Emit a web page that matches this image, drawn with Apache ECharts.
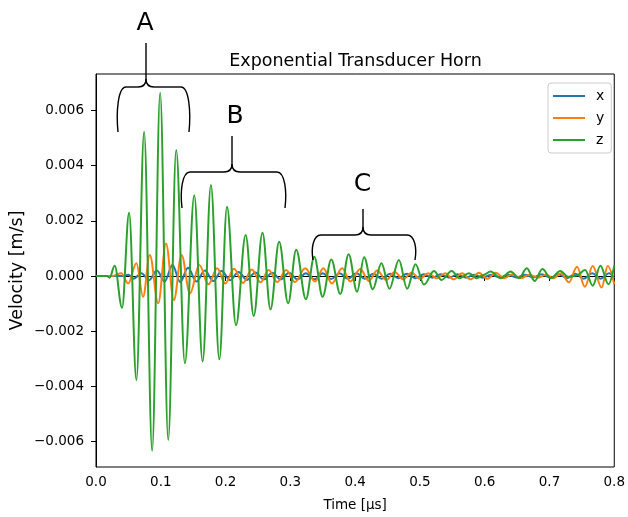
<!DOCTYPE html>
<html>
<head>
<meta charset="utf-8">
<script src="https://cdn.jsdelivr.net/npm/echarts@6/dist/echarts.min.js"></script>
<style>html,body{margin:0;padding:0;background:#fff;}#c{width:628px;height:517px;}</style>
</head>
<body>
<div id="c"></div>
<script>
// ---- data (extrema of each trace) ----
const zTime = [0, 0.017, 0.021, 0.0288, 0.0402, 0.0511, 0.0624, 0.0743, 0.0867, 0.099, 0.1115, 0.1238, 0.1372, 0.1517, 0.1646, 0.1774, 0.1904, 0.2022, 0.2161, 0.231, 0.2435, 0.257, 0.2693, 0.2827, 0.2966, 0.309, 0.324, 0.3369, 0.3498, 0.3632, 0.3771, 0.390, 0.403, 0.4138, 0.4272, 0.4406, 0.453, 0.4675, 0.4803, 0.4932, 0.5062, 0.5217, 0.5334, 0.549, 0.561, 0.5758, 0.5878, 0.598, 0.609, 0.625, 0.640, 0.653, 0.665, 0.677, 0.689, 0.702, 0.7167, 0.729, 0.742, 0.755, 0.7667, 0.7786, 0.791, 0.800];
const zVel  = [0, 0, -0.00006, 0.00037, -0.00115, 0.00229, -0.00377, 0.00523, -0.00633, 0.00664, -0.00594, 0.00457, -0.00316, 0.00293, -0.0031, 0.0033, -0.00302, 0.00251, -0.00178, 0.00149, -0.00145, 0.00157, -0.00121, 0.00124, -0.00099, 0.00095, -0.00084, 0.0007, -0.00075, 0.0006, -0.00065, 0.00079, -0.00057, 0.00068, -0.00048, 0.00046, -0.00046, 0.00058, -0.00046, 0.00043, -0.00031, 0.00018, -0.00014, 0.00018, -0.00008, 0.0001, -0.00008, 0.00004, 0.00016, -0.00008, 0.00016, -0.00008, 0.00028, -0.00018, 0.00025, -0.00008, 0.00018, -0.00003, 0.00002, 0.00022, -0.00035, 0.00037, -0.0003, 0.00037];

const yTime = [0, 0.025, 0.0391, 0.0495, 0.0624, 0.0727, 0.083, 0.096, 0.108, 0.1202, 0.132, 0.145, 0.1595, 0.1735, 0.187, 0.1995, 0.213, 0.227, 0.2405, 0.254, 0.2665, 0.2797, 0.2936, 0.307, 0.323, 0.338, 0.351, 0.364, 0.380, 0.3925, 0.408, 0.421, 0.434, 0.448, 0.461, 0.474, 0.487, 0.500, 0.513, 0.526, 0.539, 0.552, 0.565, 0.578, 0.591, 0.604, 0.617, 0.630, 0.643, 0.656, 0.669, 0.682, 0.695, 0.706, 0.718, 0.730, 0.7425, 0.7546, 0.7667, 0.7804, 0.790, 0.800];
const yVel  = [0, 0, 0.0001, -0.00027, 0.00046, -0.00075, 0.00076, -0.00099, 0.00118, -0.00087, 0.00076, -0.00063, 0.0004, -0.0003, 0.00028, -0.00027, 0.00026, -0.00025, 0.00024, -0.00023, 0.00022, -0.00022, 0.00022, -0.00022, 0.00028, -0.0002, 0.00028, -0.00027, 0.00028, -0.0002, 0.00025, -0.00018, 0.0002, -0.00015, 0.00015, -0.00012, 0.00012, -0.0001, 0.0001, -0.00008, 0.0001, -0.00012, 0.0001, -0.00012, 0.00012, -0.0001, 0.00012, -0.00008, 0.00006, -0.00008, 0.00005, -0.00006, 0.00005, -0.00008, 0.0001, -0.00023, 0.00034, -0.00039, 0.00036, -0.00042, 0.00036, -0.0003];

const xTime = [0, 0.04, 0.05, 0.058, 0.07, 0.082, 0.094, 0.106, 0.118, 0.13, 0.142, 0.155, 0.168, 0.181, 0.194, 0.207, 0.22, 0.233, 0.246, 0.259, 0.272, 0.285, 0.298, 0.311, 0.324, 0.337, 0.35, 0.363, 0.376, 0.389, 0.402, 0.415, 0.428, 0.441, 0.454, 0.467, 0.48, 0.493, 0.506, 0.519, 0.532, 0.545, 0.558, 0.571, 0.584, 0.597, 0.61, 0.623, 0.636, 0.649, 0.662, 0.675, 0.688, 0.701, 0.714, 0.727, 0.74, 0.753, 0.766, 0.779, 0.792, 0.8];
const xVel  = [0, 0, 0.00005, -0.0001, 0.0001, -0.00015, 0.0002, -0.0002, 0.0004, -0.00022, 0.0003, -0.0002, 0.0002, -0.00018, 0.00018, -0.00015, 0.00015, -0.00014, 0.00013, -0.00013, 0.00012, -0.00012, 0.00012, -0.00012, 0.0001, -0.00012, 0.0001, -0.00011, 0.0001, -0.0001, 0.0001, -0.0001, 0.00008, -0.0001, 0.00008, -0.00008, 0.00008, -0.00008, 0.00006, -0.00006, 0.00006, -0.00006, 0.00006, -0.00006, 0.00005, -0.00006, 0.00005, -0.00005, 0.00005, -0.00005, 0.00005, -0.00005, 0.00006, -0.00006, 0.00006, -0.00008, 0.00008, -0.0001, 0.0001, -0.0001, 0.0001, -0.00008];

const seriesNames = ['x', 'y', 'z'];
const seriesColors = ['#1f77b4', '#ff7f0e', '#2ca02c'];
const yTicks = [-0.006, -0.004, -0.002, 0, 0.002, 0.004, 0.006];
const titleText = 'Exponential Transducer Horn';
const xAxisName = 'Time [\u00b5s]';
const yAxisName = 'Velocity [m/s]';

function pairs(ts, vs) { return ts.map((t, i) => [t, vs[i]]); }

const FONT = 'DejaVu Sans';
const STROKE = { stroke: '#000', lineWidth: 1.4, fill: null };

function braceElements(b) {
  const r = 8;
  const els = [];
  const curve = (x1, y1, cpx1, cpy1, cpx2, cpy2, x2, y2) => els.push({
    type: 'bezierCurve', z: 100, silent: true,
    shape: { x1, y1, x2, y2, cpx1, cpy1, cpx2, cpy2 }, style: STROKE
  });
  const line = (x1, y1, x2, y2) => els.push({
    type: 'line', z: 100, silent: true, shape: { x1, y1, x2, y2 }, style: STROKE
  });
  const h = b.yb - b.yt;
  curve(b.L, b.yb, b.L - 2, b.yb - h * 0.45, b.L, b.yt, b.L + r, b.yt);
  line(b.L + r, b.yt, b.M - r, b.yt);
  curve(b.M - r, b.yt, b.M - r * 0.3, b.yt, b.M, b.yt - r * 0.3, b.M, b.yt - r);
  line(b.M, b.yt - r, b.M, b.ys);
  curve(b.M, b.yt - r, b.M, b.yt - r * 0.3, b.M + r * 0.3, b.yt, b.M + r, b.yt);
  line(b.M + r, b.yt, b.R - r, b.yt);
  curve(b.R - r, b.yt, b.R, b.yt, b.R + 2, b.yb - h * 0.45, b.R, b.yb);
  els.push({
    type: 'text', z: 100, silent: true, x: b.lx, y: b.ly,
    style: { text: b.label, fontSize: 25, fontFamily: FONT, fill: '#000', align: 'center', verticalAlign: 'middle' }
  });
  return els;
}

const braces = [
  { L: 118, R: 189, M: 146, yb: 132, yt: 87, ys: 43, label: 'A', lx: 145, ly: 23 },
  { L: 182, R: 285, M: 232, yb: 208, yt: 172, ys: 136, label: 'B', lx: 235, ly: 116 },
  { L: 313, R: 415, M: 363, yb: 260, yt: 235, ys: 209, label: 'C', lx: 362.5, ly: 184 }
];
let graphics = [];
braces.forEach(b => { graphics = graphics.concat(braceElements(b)); });

const series = [pairs(xTime, xVel), pairs(yTime, yVel), pairs(zTime, zVel)].map((d, i) => ({
  name: seriesNames[i],
  type: 'line',
  data: d,
  showSymbol: false,
  smooth: 0.36,
  smoothMonotone: 'x',
  clip: true,
  lineStyle: { color: seriesColors[i], width: 2 },
  itemStyle: { color: seriesColors[i] },
  z: 2 + i
}));

const chart = echarts.init(document.getElementById('c'), null, { renderer: 'canvas' });
chart.setOption({
  animation: false,
  backgroundColor: '#fff',
  textStyle: { fontFamily: FONT },
  title: {
    text: titleText, left: 355.5, top: 52, padding: 0, textAlign: 'center',
    textStyle: { fontFamily: FONT, fontSize: 17.5, fontWeight: 'normal', color: '#000' }
  },
  grid: { left: 95, right: 12, top: 74, bottom: 50, show: true, borderColor: '#000', borderWidth: 1, backgroundColor: 'transparent' },
  legend: {
    orient: 'vertical', left: 548, top: 83,
    data: seriesNames,
    icon: 'rect', itemWidth: 32, itemHeight: 2, itemGap: 8,
    padding: [6, 7, 6, 5],
    borderColor: '#ccc', borderWidth: 1, borderRadius: 3, backgroundColor: 'rgba(255,255,255,0.85)',
    textStyle: { fontFamily: FONT, fontSize: 14, color: '#000', padding: [0, 0, 0, 6] }
  },
  xAxis: {
    type: 'value', min: 0, max: 0.8, interval: 0.1,
    name: xAxisName, nameLocation: 'middle', nameGap: 31,
    nameTextStyle: { fontFamily: FONT, fontSize: 13.5, color: '#000' },
    axisLine: { show: true, lineStyle: { color: '#000', width: 1 } },
    axisTick: { show: true, inside: false, length: 5, lineStyle: { color: '#000' } },
    axisLabel: { fontFamily: FONT, fontSize: 13.5, color: '#000', margin: 8, formatter: v => v.toFixed(1) },
    splitLine: { show: false }
  },
  yAxis: {
    type: 'value', min: -0.00692, max: 0.00732,
    name: yAxisName, nameLocation: 'middle', nameGap: 70, nameMoveOverlap: false,
    nameTextStyle: { fontFamily: FONT, fontSize: 17.5, color: '#000' },
    axisLine: { show: true, onZero: false, lineStyle: { color: '#000', width: 1 } },
    axisTick: { show: true, length: 5, lineStyle: { color: '#000' }, customValues: yTicks },
    axisLabel: {
      fontFamily: FONT, fontSize: 13.5, color: '#000', margin: 12, customValues: yTicks,
      formatter: v => (v < -1e-12 ? '\u2212' : '') + Math.abs(v).toFixed(3)
    },
    splitLine: { show: false }
  },
  series: series,
  graphic: graphics
});
</script>
</body>
</html>
